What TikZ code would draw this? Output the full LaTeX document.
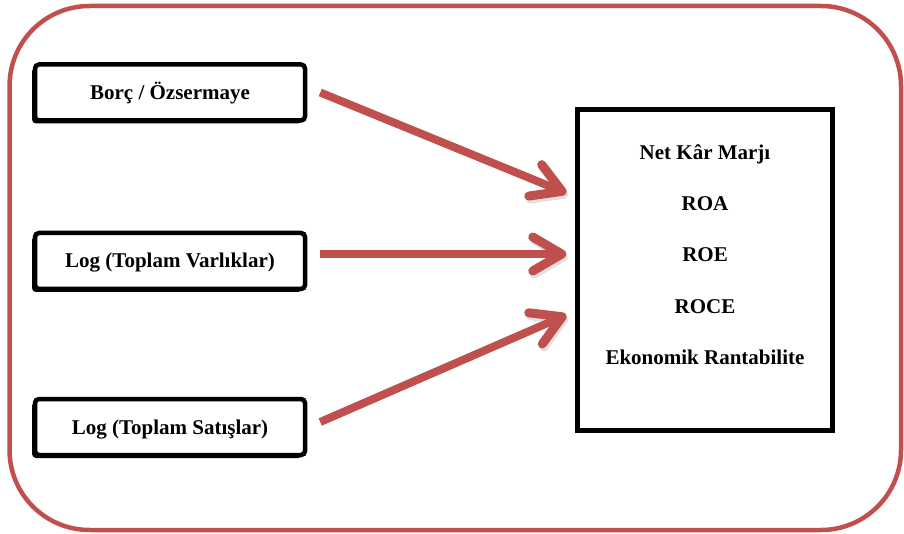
\documentclass[tikz,border=0pt]{standalone}
\usepackage{fontspec}
\setmainfont{Liberation Serif}
\usetikzlibrary{arrows.meta, positioning, shadows}
\definecolor{framered}{HTML}{C0504D}

\begin{document}
\begin{tikzpicture}[x=1pt, y=-1pt,
  factor/.style={draw, line width=4.5pt, rounded corners=4pt, fill=white, minimum width=270pt, minimum height=56pt,
    text height=14pt, text depth=0pt, font=\fontsize{21}{25}\selectfont\bfseries,
    general shadow={fill=black, shadow xshift=-3pt, shadow yshift=-3pt}},
  result/.style={draw, line width=4.5pt, fill=white, minimum width=255pt, minimum height=321pt,
    general shadow={fill=black, shadow xshift=-2.5pt, shadow yshift=-2.5pt}},
  metric/.style={anchor=base, font=\fontsize{21}{25}\selectfont\bfseries},
  flow/.style={draw=framered, line width=8pt, -{Straight Barb[length=29pt, width=34pt, line width=9pt, line cap=round, line join=round]},
    preaction={draw=black!40, opacity=0.3, transform canvas={shift={(1.5pt,-3pt)}}}}]
\useasboundingbox (0,0) rectangle (904,534);
% Outer frame
\draw[framered, line width=4.5pt, rounded corners=80pt] (9.5,6) rectangle (901,530);

% Explanatory variables (left)
\node[factor] (debt)   at (170,92.5) {Borç / Özsermaye};
\node[factor] (assets) at (170,261)  {Log (Toplam Varlıklar)};
\node[factor] (sales)  at (170,427)  {Log (Toplam Satışlar)};

% Profitability measures (right)
\node[result] (profit) at (705,270) {};
\foreach \t [count=\i] in {Net Kâr Marjı, ROA, ROE, ROCE, Ekonomik Rantabilite}
  \node[metric] (m\i) at (705,{160+51*(\i-1)}) {\t};

% Effects
\draw[flow] ([xshift=13pt]debt.east) -- ([xshift=-9pt, yshift=77pt]profit.west);
\draw[flow] ([xshift=13pt, yshift=7pt]assets.east) -- ([xshift=-9pt, yshift=16pt]profit.west);
\draw[flow] ([xshift=13pt, yshift=5pt]sales.east) -- ([xshift=-9pt, yshift=-45pt]profit.west);
\end{tikzpicture}
\end{document}
